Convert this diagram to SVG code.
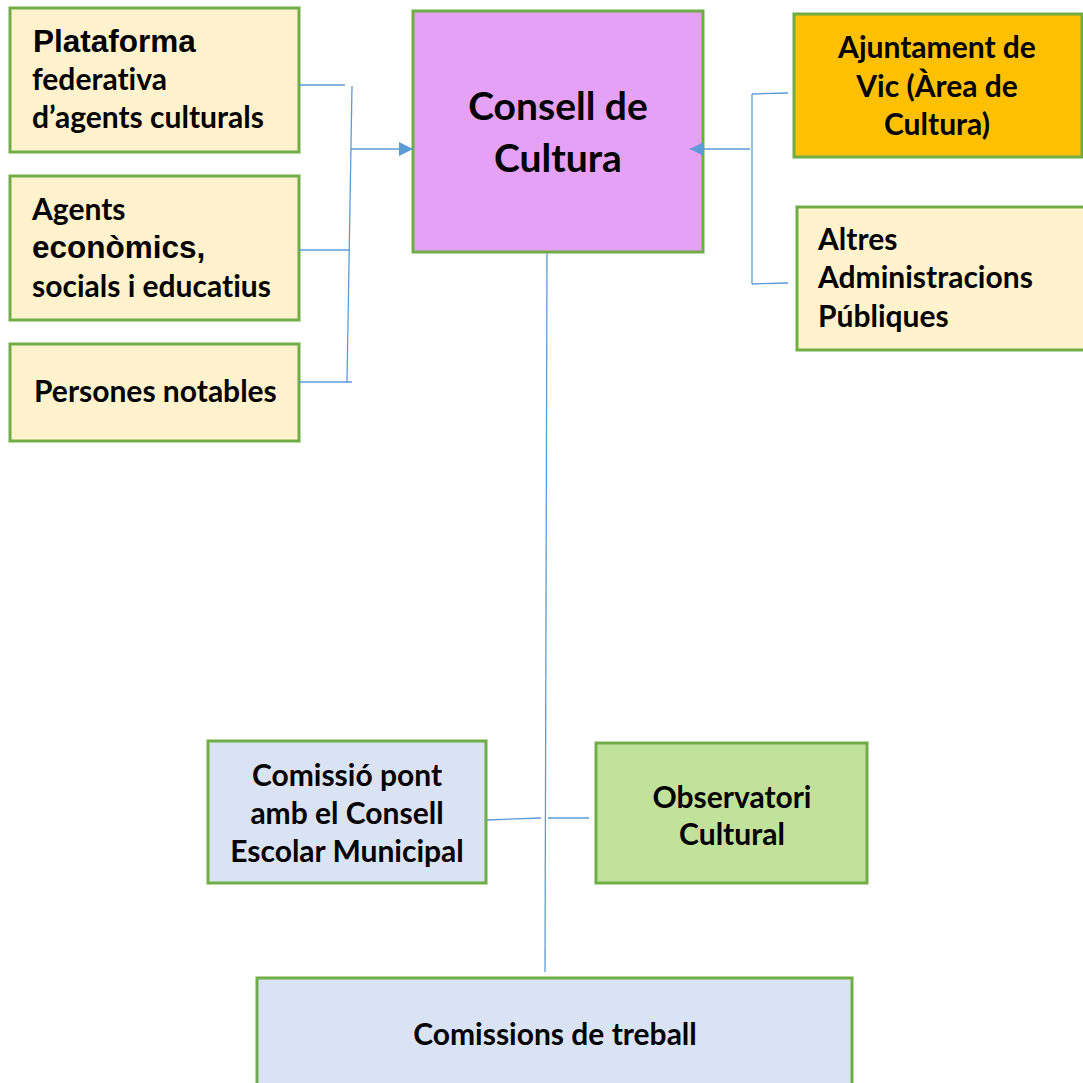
<svg xmlns="http://www.w3.org/2000/svg" width="1083" height="1083" viewBox="0 0 1083 1083">
<defs>
<style>
.box{stroke:#70AD47;stroke-width:3}
.cream{fill:#FFF2CC}
.t{font-family:Lato,"Open Sans","Liberation Sans",sans-serif;font-weight:bold;font-size:30px;fill:#000;font-variant-ligatures:none}
.a{font-family:"Liberation Sans",Arial,sans-serif;font-weight:bold;font-size:31.5px;fill:#000}
.c{text-anchor:middle}
.ln{stroke:#5B9BD5;stroke-width:1.3;fill:none}
</style>
<marker id="ah" viewBox="0 0 10 10" refX="10" refY="5" markerWidth="14" markerHeight="14" markerUnits="userSpaceOnUse" orient="auto">
<path d="M0,0 L10,5 L0,10 z" fill="#5B9BD5"/>
</marker>
</defs>
<rect width="1083" height="1083" fill="#fff"/>
<g id="plataforma">
<rect class="box cream" x="10" y="8" width="289" height="144"/>
<text class="a" x="33" y="52">Plataforma</text>
<text class="t" x="32" y="90">federativa</text>
<text class="t" x="32" y="128">d’agents culturals</text>
</g>
<g id="agents">
<rect class="box cream" x="10" y="176" width="289" height="144"/>
<text class="t" x="32" y="220">Agents</text>
<text class="a" x="32" y="258">econòmics,</text>
<text class="t" x="32" y="297">socials i educatius</text>
</g>
<g id="persones">
<rect class="box cream" x="10" y="344" width="289" height="97"/>
<text class="t" x="34" y="402">Persones notables</text>
</g>
<g id="consell">
<rect class="box" x="413" y="11" width="290" height="241" fill="#E5A1F6"/>
<text class="t c" x="558" y="120" style="font-size:39px">Consell de</text>
<text class="t c" x="558" y="172" style="font-size:39px">Cultura</text>
</g>
<g id="ajuntament">
<rect class="box" x="794" y="14" width="288" height="143" fill="#FFC000"/>
<text class="t c" x="937" y="58">Ajuntament de</text>
<text class="t c" x="937" y="97">Vic (Àrea de</text>
<text class="t c" x="937" y="135">Cultura)</text>
</g>
<g id="altres">
<rect class="box cream" x="797" y="207" width="290" height="143"/>
<text class="t" x="818" y="250">Altres</text>
<text class="t" x="818" y="288">Administracions</text>
<text class="t" x="818" y="327">Públiques</text>
</g>
<g id="comissio">
<rect class="box" x="208" y="741" width="278" height="142" fill="#DAE3F3"/>
<text class="t c" x="347" y="786">Comissió pont</text>
<text class="t c" x="347" y="824">amb el Consell</text>
<text class="t c" x="347" y="862">Escolar Municipal</text>
</g>
<g id="observatori">
<rect class="box" x="596" y="743" width="271" height="140" fill="#C0E29B"/>
<text class="t c" x="732" y="808">Observatori</text>
<text class="t c" x="732" y="845">Cultural</text>
</g>
<g id="comissions">
<rect class="box" x="257" y="978" width="595" height="110" fill="#DAE3F3"/>
<text class="t c" x="555" y="1045">Comissions de treball</text>
</g>
<g id="connectors">
<path class="ln" d="M299,85 H345"/>
<path class="ln" d="M352,86 L347,382"/>
<path class="ln" d="M299,250 H349"/>
<path class="ln" d="M299,382 H352"/>
<path class="ln" d="M351,149 H413" marker-end="url(#ah)"/>
<path class="ln" d="M752,94 V284"/>
<path class="ln" d="M752,94 L788,93"/>
<path class="ln" d="M752,284 L788,283"/>
<path class="ln" d="M750,149 H690" marker-end="url(#ah)"/>
<path class="ln" d="M547,253 L545,972"/>
<path class="ln" d="M487,820 L541,818"/>
<path class="ln" d="M548,818 H589"/>
</g>
</svg>
